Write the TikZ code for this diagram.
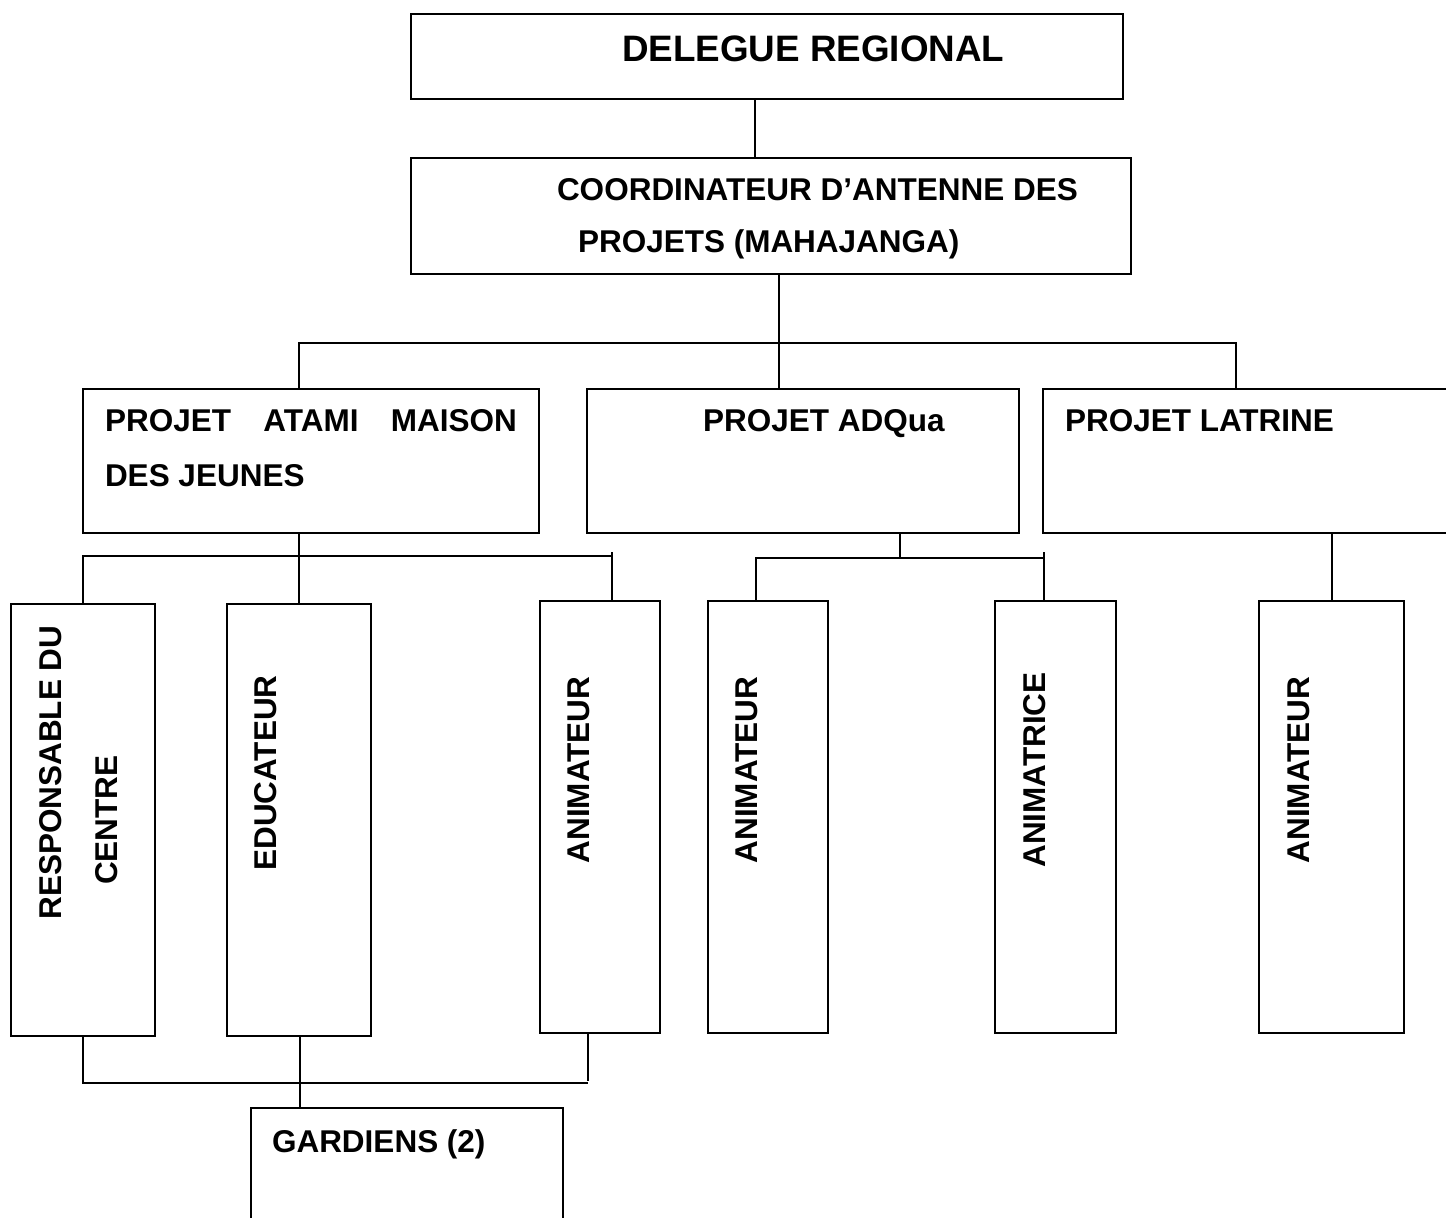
\documentclass[tikz,border=0pt]{standalone}
\usepackage{fontspec}
\setmainfont{Liberation Sans}
\begin{document}
\begin{tikzpicture}[x=0.5pt,y=-0.5pt,
  box/.style={draw=black, line width=1.3pt, inner sep=0pt, outer sep=0pt, rectangle},
  conn/.style={draw=black, line width=1.1pt},
  txt/.style={inner sep=0pt, outer sep=0pt, font=\bfseries\fontsize{15.75}{20}\selectfont},
  big/.style={inner sep=0pt, outer sep=0pt, font=\bfseries\fontsize{18.4}{22}\selectfont},
  vtxt/.style={txt, rotate=90, anchor=center}]
\useasboundingbox (0,0) rectangle (1446,1217);
\clip (0,0) rectangle (1446,1217);

% boxes
\node[box, minimum width=356pt, minimum height=42.5pt] (del) at (767,56.5) {};
\node[box, minimum width=360pt, minimum height=58pt] (coord) at (771,216) {};
\node[box, minimum width=228pt, minimum height=72pt] (atami) at (311,461) {};
\node[box, minimum width=216pt, minimum height=72pt] (adqua) at (803,461) {};
\node[box, minimum width=218.5pt, minimum height=72pt] (latrine) at (1261.5,461) {};
\node[box, minimum width=72pt, minimum height=216pt] (resp) at (83,820) {};
\node[box, minimum width=72pt, minimum height=216pt] (educ) at (299,820) {};
\node[box, minimum width=60pt, minimum height=216pt] (anim1) at (600,817) {};
\node[box, minimum width=60pt, minimum height=216pt] (anim2) at (768,817) {};
\node[box, minimum width=60.5pt, minimum height=216pt] (animf) at (1055.5,817) {};
\node[box, minimum width=72.5pt, minimum height=216pt] (anim3) at (1331.5,817) {};
\node[box, minimum width=156pt, minimum height=76pt] (gard) at (407,1184) {};

% texts
\node[big, anchor=base west] (tDel) at (622,61) {DELEGUE REGIONAL};
\node[txt, anchor=base west] (tCoord1) at (557,200) {COORDINATEUR D’ANTENNE DES};
\node[txt, anchor=base west] (tCoord2) at (578,252) {PROJETS (MAHAJANGA)};
\node[txt, anchor=base west] (tAtami1) at (105,431) {\makebox[206pt][s]{PROJET ATAMI MAISON}};
\node[txt, anchor=base west] (tAtami2) at (105,486) {DES JEUNES};
\node[txt, anchor=base west] (tAdqua) at (703,431) {PROJET ADQua};
\node[txt, anchor=base west] (tLatrine) at (1065,431) {PROJET LATRINE};
\node[txt, anchor=base west] (tGard) at (272,1152) {GARDIENS (2)};
\node[vtxt] (tResp1) at (50.5,772.5) {RESPONSABLE DU};
\node[vtxt] (tResp2) at (107,820) {CENTRE};
\node[vtxt] (tEduc) at (266,773) {EDUCATEUR};
\node[vtxt] (tAnim1) at (579,770) {ANIMATEUR};
\node[vtxt] (tAnim2) at (747,770) {ANIMATEUR};
\node[vtxt] (tAnimf) at (1035,770) {ANIMATRICE};
\node[vtxt] (tAnim3) at (1299,770) {ANIMATEUR};

% junction coordinates
\coordinate (x1) at (755,0);
\coordinate (x2) at (779,0);
\coordinate (b1L) at (299,343);
\coordinate (b1R) at (1236,343);
\coordinate (b1M) at (779,343);
\coordinate (b2L) at (83,556);
\coordinate (b2M) at (299,556);
\coordinate (b2R) at (612,556);
\coordinate (b2T) at (612,552);
\coordinate (b3L) at (756,558);
\coordinate (b3M) at (900,558);
\coordinate (b3R) at (1044,558);
\coordinate (b3T) at (1044,552);
\coordinate (x5) at (1332,0);
\coordinate (b4L) at (83,1083);
\coordinate (b4R) at (588,1083);
\coordinate (b4T) at (588,1081);
\coordinate (x6) at (300,0);

% connectors
\draw[conn] (del.south -| x1) -- (coord.north -| x1);
\draw[conn] (coord.south -| x2) -- (adqua.north -| x2);
\draw[conn] (atami.north -| b1L) -- (b1L) -- (b1R) -- (latrine.north -| b1R);
\draw[conn] (atami.south -| b2M) -- (educ.north -| b2M);
\draw[conn] (resp.north -| b2L) -- (b2L) -- (b2R);
\draw[conn] (b2T) -- (anim1.north -| b2T);
\draw[conn] (adqua.south -| b3M) -- (b3M);
\draw[conn] (anim2.north -| b3L) -- (b3L) -- (b3R);
\draw[conn] (b3T) -- (animf.north -| b3T);
\draw[conn] (latrine.south -| x5) -- (anim3.north -| x5);
\draw[conn] (resp.south -| b4L) -- (b4L) -- (b4R);
\draw[conn] (anim1.south -| b4T) -- (b4T);
\draw[conn] (educ.south -| x6) -- (gard.north -| x6);
\end{tikzpicture}
\end{document}
